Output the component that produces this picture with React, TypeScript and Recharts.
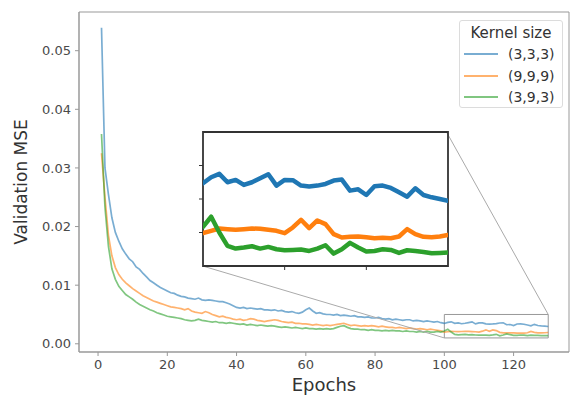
import React from 'react';
import { LineChart, Line, XAxis, YAxis, ReferenceArea, ReferenceLine, Legend, Label } from 'recharts';

const seriesNames = ['(3,3,3)', '(9,9,9)', '(3,9,3)'];
const seriesKeys = ['k333', 'k999', 'k393'];
const seriesColors = ['#1f77b4', '#ff7f0e', '#2ca02c'];

const epochs = Array.from({ length: 130 }, (_, i) => i + 1);

const mse333 = [
  0.0539, 0.0300, 0.0255, 0.0215, 0.0190, 0.0175, 0.0162, 0.0153, 0.0145, 0.0140,
  0.0131, 0.0127, 0.0120, 0.0114, 0.0108, 0.0104, 0.0100, 0.0096, 0.0093, 0.0090,
  0.0087, 0.0086, 0.0083, 0.0081, 0.0080, 0.0078, 0.0077, 0.0076, 0.0078, 0.0075,
  0.0074, 0.0075, 0.0074, 0.0073, 0.0072, 0.0072, 0.0070, 0.0068, 0.0065, 0.0062,
  0.0061, 0.0062, 0.0060, 0.0061, 0.0060, 0.0059, 0.0060, 0.0058, 0.0058, 0.0057,
  0.0058, 0.0056, 0.0057, 0.0055, 0.0054, 0.0055, 0.0053, 0.0052, 0.0054, 0.0058,
  0.0061, 0.0056, 0.0052, 0.0053, 0.0051, 0.0050, 0.0050, 0.0049, 0.0050, 0.0048,
  0.0049, 0.0048, 0.0047, 0.0048, 0.0046, 0.0046, 0.0045, 0.0046, 0.0044, 0.0044,
  0.0045, 0.0043, 0.0042, 0.0043, 0.0041, 0.0042, 0.0041, 0.0040, 0.0041, 0.0041,
  0.0039, 0.0040, 0.0039, 0.0038, 0.0039, 0.0038, 0.0037, 0.0038, 0.0036,
  0.00347, 0.00365, 0.00375, 0.00350, 0.00357, 0.00342, 0.00350, 0.00362, 0.00374, 0.00340,
  0.00357, 0.00356, 0.00340, 0.00337, 0.00340, 0.00345, 0.00355, 0.00358, 0.00325, 0.00329,
  0.00312, 0.00338, 0.00340, 0.00333, 0.00320, 0.00307, 0.00332, 0.00312, 0.00305, 0.00300,
  0.00295,
];

const mse999 = [
  0.0325, 0.0250, 0.0185, 0.0150, 0.0130, 0.0118, 0.0110, 0.0104, 0.0099, 0.0094,
  0.0090, 0.0086, 0.0082, 0.0079, 0.0076, 0.0073, 0.0071, 0.0069, 0.0067, 0.0065,
  0.0063, 0.0062, 0.0061, 0.0060, 0.0058, 0.0060, 0.0056, 0.0054, 0.0053, 0.0052,
  0.0055, 0.0053, 0.0050, 0.0048, 0.0046, 0.0047, 0.0045, 0.0044, 0.0042, 0.0041,
  0.0042, 0.0040, 0.0041, 0.0043, 0.0042, 0.0040, 0.0039, 0.0038, 0.0039, 0.0040,
  0.0041, 0.0040, 0.0038, 0.0037, 0.0036, 0.0037, 0.0035, 0.0035, 0.0034, 0.0034,
  0.0033, 0.0032, 0.0033, 0.0032, 0.0031, 0.0032, 0.0031, 0.0032, 0.0033, 0.0034,
  0.0035, 0.0033, 0.0031, 0.0032, 0.0031, 0.0030, 0.0031, 0.0030, 0.0031, 0.0030,
  0.0029, 0.0030, 0.0029, 0.0028, 0.0028, 0.0027, 0.0028, 0.0027, 0.0026, 0.0027,
  0.0026, 0.0025, 0.0026, 0.0025, 0.0024, 0.0025, 0.0024, 0.0023, 0.0022,
  0.00198, 0.00205, 0.00212, 0.00210, 0.00208, 0.00210, 0.00212, 0.00211, 0.00208, 0.00205,
  0.00198, 0.00215, 0.00238, 0.00213, 0.00236, 0.00225, 0.00195, 0.00185, 0.00187, 0.00188,
  0.00186, 0.00183, 0.00184, 0.00183, 0.00188, 0.00210, 0.00195, 0.00187, 0.00186, 0.00188,
  0.00193,
];

const mse393 = [
  0.0358, 0.0233, 0.0166, 0.0128, 0.0110, 0.0098, 0.0091, 0.0084, 0.0080, 0.0076,
  0.0071, 0.0067, 0.0064, 0.0061, 0.0058, 0.0056, 0.0053, 0.0051, 0.0049, 0.0047,
  0.0046, 0.0045, 0.0044, 0.0043, 0.0041, 0.0040, 0.0039, 0.0040, 0.0042, 0.0040,
  0.0039, 0.0038, 0.0037, 0.0038, 0.0036, 0.0036, 0.0035, 0.0036, 0.0035, 0.0034,
  0.0033, 0.0034, 0.0032, 0.0033, 0.0032, 0.0031, 0.0032, 0.0031, 0.0030, 0.0031,
  0.0030, 0.0029, 0.0028, 0.0029, 0.0028, 0.0027, 0.0028, 0.0027, 0.0026, 0.0027,
  0.0026, 0.0026, 0.0025, 0.0026, 0.0025, 0.0026, 0.0025, 0.0026, 0.0028, 0.0030,
  0.0031, 0.0028, 0.0026, 0.0025, 0.0025, 0.0024, 0.0024, 0.0023, 0.0024, 0.0023,
  0.0023, 0.0022, 0.0023, 0.0022, 0.0023, 0.0022, 0.0022, 0.0021, 0.0022, 0.0021,
  0.0021, 0.0020, 0.0021, 0.0020, 0.0021, 0.0020, 0.0020, 0.0021, 0.0020,
  0.00217, 0.00247, 0.00200, 0.00160, 0.00152, 0.00155, 0.00159, 0.00152, 0.00157, 0.00150,
  0.00147, 0.00148, 0.00149, 0.00145, 0.00152, 0.00162, 0.00137, 0.00150, 0.00169, 0.00155,
  0.00143, 0.00145, 0.00150, 0.00148, 0.00139, 0.00147, 0.00145, 0.00142, 0.00138, 0.00139,
  0.00140,
];

const xTicks = [0, 20, 40, 60, 80, 100, 120];
const yTicks = [0, 0.01, 0.02, 0.03, 0.04, 0.05];
const insetXTicks = [110, 120];
const insetYTicks = [0.002, 0.003, 0.004];

const zoomX = [100, 130];
const zoomY = [0.001, 0.005];
// inset corners expressed in main-chart data units (for connector lines)
const insetBottomLeft = { x: 30.2, y: 0.01327 };
const insetTopRight = { x: 100.7, y: 0.03605 };

const allSeries = [mse333, mse999, mse393];
const data = epochs.map((e, i) => {
  const row: any = { epoch: e };
  seriesKeys.forEach((k, j) => { row[k] = allSeries[j][i]; });
  return row;
});
const insetData = data.filter((d) => d.epoch >= zoomX[0] && d.epoch <= zoomX[1]);

const FONT = '"DejaVu Sans", sans-serif';

const renderLegend = () => (
  <div
    style={{
      position: 'relative',
      width: 104,
      height: 88,
      boxSizing: 'border-box',
      border: '1px solid #dcdcdc',
      borderRadius: 3,
      background: 'rgba(255,255,255,0.85)',
      fontFamily: FONT,
      color: '#333',
    }}
  >
    <div style={{ position: 'absolute', left: 0, right: 0, top: 3, textAlign: 'center', fontSize: 15, lineHeight: '18px' }}>
      Kernel size
    </div>
    {seriesNames.map((n, i) => (
      <div key={n} style={{ position: 'absolute', left: 0, top: 24 + i * 21.5, height: 18, width: 104 }}>
        <svg width={40} height={18} style={{ position: 'absolute', left: 3, top: 0 }}>
          <line x1={1} y1={9} x2={35} y2={9} stroke={seriesColors[i]} strokeOpacity={0.6} strokeWidth={2} />
        </svg>
        <span style={{ position: 'absolute', left: 48, top: 0, fontSize: 14, lineHeight: '18px' }}>{n}</span>
      </div>
    ))}
  </div>
);

export default function App() {
  return (
    <div style={{ position: 'absolute', left: 0, top: 0, width: 571, height: 398, background: '#fff' }}>
      <div style={{ position: 'absolute', left: 0, top: 0 }}>
        <LineChart width={571} height={398} data={data} margin={{ top: 12, right: 2, bottom: 0, left: 0 }}>
          <XAxis
            dataKey="epoch"
            type="number"
            domain={[-5.5, 136]}
            allowDataOverflow
            ticks={xTicks}
            height={46}
            tickSize={4}
            tickMargin={4}
            stroke="#999"
            tick={{ fill: '#4a4a4a', fontSize: 13, fontFamily: FONT }}
          >
            <Label value="Epochs" position="center" dy={10} style={{ fill: '#333', fontSize: 18, fontFamily: FONT }} />
          </XAxis>
          <YAxis
            type="number"
            domain={[-0.0014, 0.0566]}
            allowDataOverflow
            ticks={yTicks}
            width={79}
            tickSize={4}
            tickMargin={4}
            stroke="#999"
            tickFormatter={(v: number) => v.toFixed(2)}
            tick={{ fill: '#4a4a4a', fontSize: 13, fontFamily: FONT }}
          >
            <Label value="Validation MSE" position="center" angle={-90} dx={-19} style={{ fill: '#333', fontSize: 17, fontFamily: FONT, textAnchor: 'middle' }} />
          </YAxis>
          <ReferenceArea x1={-5.5} x2={136} y1={-0.0014} y2={0.0566} fill="none" stroke="#999" strokeWidth={1} ifOverflow="visible" />
          {seriesKeys.map((k, i) => (
            <Line
              key={k}
              dataKey={k}
              name={seriesNames[i]}
              stroke={seriesColors[i]}
              strokeOpacity={0.6}
              strokeWidth={1.7}
              dot={false}
              isAnimationActive={false}
            />
          ))}
          <ReferenceArea x1={zoomX[0]} x2={zoomX[1]} y1={zoomY[0]} y2={zoomY[1]} fill="none" stroke="#999" strokeWidth={1} ifOverflow="visible" />
          <ReferenceLine segment={[insetBottomLeft, { x: zoomX[0], y: zoomY[0] }]} stroke="#aaa" strokeWidth={1} ifOverflow="visible" />
          <ReferenceLine segment={[insetTopRight, { x: zoomX[1], y: zoomY[1] }]} stroke="#aaa" strokeWidth={1} ifOverflow="visible" />
          <Legend
            layout="horizontal"
            align="center"
            verticalAlign="middle"
            content={renderLegend}
            wrapperStyle={{ position: 'absolute', left: 459, top: 20, width: 104, height: 88 }}
          />
        </LineChart>
      </div>
      <div style={{ position: 'absolute', left: 193, top: 127 }}>
        <LineChart width={260} height={147} data={insetData} margin={{ top: 5, right: 5, bottom: 0, left: 0 }}>
          <XAxis
            dataKey="epoch"
            type="number"
            domain={zoomX}
            allowDataOverflow
            ticks={insetXTicks}
            height={8}
            tickSize={4}
            axisLine={false}
            stroke="#333"
            tickFormatter={() => ''}
          />
          <YAxis
            type="number"
            domain={zoomY}
            allowDataOverflow
            ticks={insetYTicks}
            width={10}
            tickSize={4}
            axisLine={false}
            stroke="#333"
            tickFormatter={() => ''}
          />
          {seriesKeys.map((k, i) => (
            <Line
              key={k}
              dataKey={k}
              stroke={seriesColors[i]}
              strokeWidth={4.5}
              strokeLinejoin="round"
              strokeLinecap="round"
              dot={false}
              isAnimationActive={false}
            />
          ))}
          <ReferenceArea x1={zoomX[0]} x2={zoomX[1]} y1={zoomY[0]} y2={zoomY[1]} fill="none" stroke="#333" strokeWidth={1.8} ifOverflow="visible" />
        </LineChart>
      </div>
    </div>
  );
}
